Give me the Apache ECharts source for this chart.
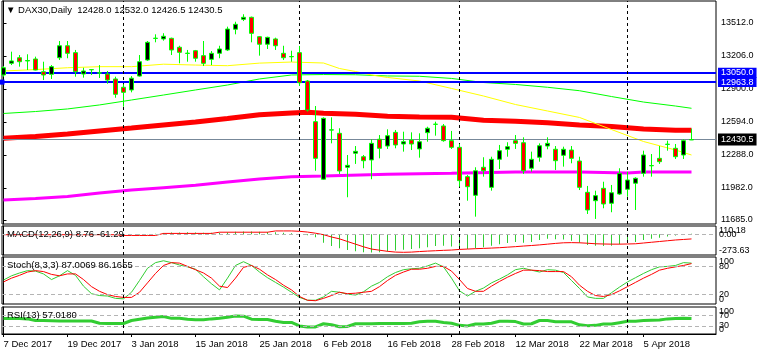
<!DOCTYPE html>
<html><head><meta charset="utf-8">
<script src="https://cdn.jsdelivr.net/npm/echarts@6/dist/echarts.min.js"></script>
<style>html,body{margin:0;padding:0;background:#fff}#c{width:759px;height:356px}</style>
</head><body><div id="c"></div>
<script>
// ---- x axis ticks ----
const tickIdx = [0, 8, 16, 24, 32, 40, 48, 56, 64, 72, 80];
const tickLabels = ['7 Dec 2017', '19 Dec 2017', '3 Jan 2018', '15 Jan 2018', '25 Jan 2018', '6 Feb 2018', '16 Feb 2018', '28 Feb 2018', '12 Mar 2018', '22 Mar 2018', '5 Apr 2018'];
const separatorIdx = [15, 37, 57, 78];
// ---- price axis ticks ----
const priceTicks = [11685, 11982, 12288, 12594, 12900, 13206, 13512];
// ---- OHLC ----
const openP = [13030,13138,13190,13160,13178,13060,13036,13190,13301,13237, 13039,13078,13048,13039,12993,12916,12891,13020,13169,13369, 13364,13370,13287,13230,13255,13209,13175,13231,13262,13454, 13546,13565,13385,13315,13364,13231,13199,13237,12974,12597, 12063,12519,12489,12174,12304,12272,12242,12434,12371,12498, 12390,12427,12344,12495,12572,12557,12421,12359,12087,11914, 12174,11988,12248,12341,12421,12402,12165,12267,12371,12341, 12285,12334,12232,11942,11864,11979,11840,11926,11970,12026, 12118,12188,12257,12386,12350,12288,12428];
const highP = [13113,13246,13215,13222,13200,13153,13122,13345,13345,13262, 13097,13085,13122,13067,13014,12944,13020,13215,13345,13407, 13417,13376,13301,13262,13262,13345,13252,13301,13478,13524, 13593,13571,13391,13385,13376,13301,13255,13299,12983,12742, 12637,12637,12536,12288,12371,12288,12434,12473,12526,12520, 12504,12498,12489,12550,12597,12575,12511,12390,12103,12174, 12267,12272,12381,12406,12473,12452,12319,12396,12452,12371, 12365,12371,12272,12001,11957,12040,12010,12165,12133,12081, 12328,12297,12371,12421,12390,12434,12532];
const lowP = [13014,13122,13107,13076,13073,12983,12993,13169,13185,13014, 13005,13030,13002,12949,12819,12736,12869,13014,13160,13333, 13348,13215,13138,13153,13153,13113,13122,13185,13252,13407, 13530,13333,13209,13271,13262,13169,13153,12928,12690,12142, 12056,12396,12112,11896,12205,12165,12063,12257,12344,12350, 12319,12334,12263,12411,12467,12411,12344,11994,11864,11716, 12087,11957,12158,12272,12344,12112,12133,12226,12341,12149, 12180,12211,11963,11741,11695,11794,11757,11917,11901,11778, 12087,12087,12205,12328,12251,12251,12426.5];
const closeP = [13097,13160,13153,13164,13076,13030,13107,13301,13231,13060, 13067,13080,13050,12983,12851,12869,13000,13153,13333,13371, 13389,13262,13240,13232,13185,13138,13231,13271,13456,13500, 13565,13416,13315,13379,13301,13190,13201,12958,12705,12257, 12628,12521,12140,12192,12322,12235,12396,12350,12467,12381, 12411,12390,12411,12536,12574,12421,12359,12050,11994,12142, 12142,12248,12328,12365,12396,12142,12248,12374,12396,12235, 12341,12257,11988,11778,11911,11834,11938,12118,12056,12072, 12288,12190,12226,12388,12272,12421,12430.5];
// ---- moving averages (read at sampled bars) ----
const yellowIdx = [0,4,8,12,16,20,24,28,32,36,40,42,44,46,48,52,56,60,64,68,72,76,80,84,86];
const yellowMA = [13067,13080,13097,13107,13107,13130,13122,13116,13140,13150,13141,13090,13062,13030,13007,12974,12905,12835,12756,12696,12636,12524,12413,12334,12288];
const greenIdx = [0,4,8,12,16,20,24,28,32,36,40,44,48,52,56,60,64,68,72,76,80,84,86];
const greenMA = [12673,12691,12715,12752,12798,12844,12891,12937,12993,13030,13034,13032,13021,13018,12998,12960,12942,12916,12884,12830,12779,12742,12721];
const redIdx = [0,4,8,12,16,20,24,28,32,36,38,40,44,48,52,56,60,64,68,72,76,80,84,86];
const redMA = [12443,12460,12483,12511,12538,12566,12594,12626,12662,12677,12684,12675,12665,12647,12640,12638,12610,12600,12588,12566,12552,12529,12517,12517];
const magentaIdx = [0,4,8,12,16,20,24,28,32,36,40,48,56,64,72,78,80,86];
const magentaMA = [11871,11885,11903,11936,11963,11985,12007,12038,12065,12087,12093,12109,12118,12130,12130,12121,12130,12130];
// ---- horizontal lines ----
const resistLines = [13050.0, 12963.8];
const bidPrice = 12430.5;
// ---- MACD ----
const macdMain = [4,3,2,1,-1,-2,-3,-3,-2,-3,-4,-5,-5,-6,-6, -8,-8,-6,-3, 8,18,24,25,27,25,22,20,20,28,35,38,36,33,30,27,22,15, 5,-12,-40,-111,-154,-185,-207,-225,-236,-240,-238, -228,-215,-205,-195,-185,-170,-155,-150,-160,-185,-195,-185,-170,-150,-130,-115,-100,-110,-100,-75,-60,-65,-70,-85,-110,-140,-150,-155,-150,-130,-115,-100,-75,-60,-45,-30,-15,0,9];
const macdSignal = [-5,-5,-5,-5,-5,-5,-5,-5,-5,-5,-5,-5,-5,-5,-5, -15,-15,-15,-15,-15, 12,12,12,12,12,12,12, 28,28,28,28,28,28,28, 45,45,45, 40,30,15,-5,-35,-60,-95,-130,-165,-195,-210,-225,-235,-238,-235,-228,-222,-217,-212,-208,-200,-195,-190,-186,-182,-177,-170,-163,-155,-148,-140,-130,-120,-112,-110,-112,-118,-125,-128,-130,-130,-128,-125,-115,-105,-95,-85,-75,-68,-61];
const macdRange = [-273.63, 110.18];
const macdLevels = [0];
// ---- Stochastic ----
const stochK = [51,60,66,71,70,64,52,60,71,61, 38,22,18,17,12,11,25,50,76,88, 92,88,83,79,74,58,43,30,55,82, 90,82,68,56,46,36,25,14,8,8, 15,27,25,21,19,26,38,46,58,67, 73,75,76,81,87,79,55,28,17,27, 34,45,53,62,73,76,72,68,73,72, 67,50,33,15,12,12,24,36,47,56, 65,73,79,80,82,88,87];
const stochD = [47,55,61,68,71,69,63,60,64,64, 52,37,27,20,16,14,14,25,45,65, 82,88,87,80,73,66,55,38,35,55, 78,82,74,62,52,40,30,16,8,7, 12,18,25,22,23,25,27,37,50,61, 68,74,74,76,80,80,70,52,33,27, 27,38,48,57,65,72,72,71,69,69, 69,58,40,27,18,16,20,28,37,46, 55,63,72,76,79,82,86];
const oscRange = [0, 100];
const stochLevels = [20, 80];
// ---- RSI ----
const rsi = [57,57,57,56,50,50,49,48,48,48, 48,48,40,39,39,39,50,55,59,62, 65,58,58,55,53,53,56,58,62,67, 66,55,54,54,47,43,43,30,26,26, 38,34,27,28,38,38,38,39,39,39, 39,40,45,47,47,43,40,32,30,37, 37,40,47,47,46,37,38,50,50,45, 45,45,34,31,32,37,37,42,47,47, 50,51,52,56,57,58,57];
const rsiLevels = [30, 70];

const FONT = 'Liberation Sans';
const XMIN = -0.1875, XMAX = 89.0625;
const candles = openP.map((o, i) => [i, o, closeP[i], lowP[i], highP[i]]);
const pairs = (idx, vals) => idx.map((x, k) => [x, vals[k]]);
const perBar = vals => vals.map((v, i) => [i, v]);
const sepLines = separatorIdx.map(v => ({ xAxis: v, lineStyle: { type: [3, 3], color: '#000', width: 1 }, label: { show: false } }));
const levelLines = lv => lv.map(v => ({ yAxis: v, lineStyle: { type: [4, 3], color: '#b4b4b4', width: 1 }, label: { show: false } }));

const grids = [
  { top: 1, height: 223 },
  { top: 226, height: 29 },
  { top: 257, height: 47 },
  { top: 307, height: 27 }
].map(g => Object.assign({ left: 2, right: 43, show: true, borderColor: '#000', borderWidth: 1, backgroundColor: '#fff', outerBoundsMode: 'none', containLabel: false }, g));

const xAxes = [0, 1, 2, 3].map(gi => ({
  type: 'value', gridIndex: gi, min: XMIN, max: XMAX,
  splitLine: { show: false },
  axisLine: { show: gi === 3, lineStyle: { color: '#000' } },
  axisTick: { show: gi === 3, customValues: tickIdx, length: 3, lineStyle: { color: '#000' } },
  axisLabel: {
    show: gi === 3, customValues: tickIdx, align: 'left', margin: 5,
    color: '#000', fontSize: 9.5, fontFamily: FONT, hideOverlap: false,
    formatter: v => tickLabels[tickIdx.indexOf(v)]
  }
}));

// extremes axis (labels hang inside the panel) and level axis (centered labels)
const subY = (gi, range, ticks, fmt, extreme) => ({
  type: 'value', gridIndex: gi, position: 'right', min: range[0], max: range[1],
  splitLine: { show: false },
  axisLine: { show: extreme, lineStyle: { color: '#000' } },
  axisTick: { show: false },
  axisLabel: Object.assign({
    customValues: ticks, margin: 3, color: '#000', fontSize: 9, fontFamily: FONT,
    hideOverlap: false, showMinLabel: true, showMaxLabel: true, formatter: fmt
  }, extreme ? { verticalAlignMinLabel: 'bottom', verticalAlignMaxLabel: 'top' } : {})
});
const f2 = v => v.toFixed(2);
const f0 = v => String(v);

const yAxes = [
  {
    type: 'value', gridIndex: 0, position: 'right', min: 11648, max: 13716, scale: true,
    splitLine: { show: false },
    axisLine: { show: true, lineStyle: { color: '#000' } },
    axisTick: { show: true, customValues: priceTicks, length: 3, lineStyle: { color: '#000' } },
    axisLabel: { customValues: priceTicks, margin: 5, color: '#000', fontSize: 9, fontFamily: FONT, hideOverlap: false, formatter: v => v.toFixed(1) }
  },
  subY(1, macdRange, macdRange, f2, true),
  subY(2, oscRange, oscRange, f0, true),
  subY(3, oscRange, oscRange, f0, true),
  subY(1, macdRange, macdLevels, f2, false),
  subY(2, oscRange, stochLevels, f0, false),
  subY(3, oscRange, rsiLevels, f0, false)
];

const priceLabel = (txt, bg) => ({ show: true, position: 'end', distance: 2, formatter: txt, color: '#fff', backgroundColor: bg, padding: bg === '#000' ? [2, 3, 1, 3] : [1, 3, 0, 3], fontSize: 9, fontFamily: FONT, lineHeight: 9 });

const series = [
  { type: 'line', xAxisIndex: 0, yAxisIndex: 0, data: pairs(magentaIdx, magentaMA), symbol: 'none', lineStyle: { color: '#ff00ff', width: 3 }, z: 2 },
  { type: 'line', xAxisIndex: 0, yAxisIndex: 0, data: pairs(redIdx, redMA), symbol: 'none', lineStyle: { color: '#ff0000', width: 5 }, z: 2 },
  { type: 'line', xAxisIndex: 0, yAxisIndex: 0, data: pairs(greenIdx, greenMA), symbol: 'none', lineStyle: { color: '#00ff00', width: 1 }, z: 2 },
  { type: 'line', xAxisIndex: 0, yAxisIndex: 0, data: pairs(yellowIdx, yellowMA), symbol: 'none', lineStyle: { color: '#ffff00', width: 1 }, z: 2 },
  {
    type: 'candlestick', xAxisIndex: 0, yAxisIndex: 0, data: candles,
    encode: { x: 0, y: [1, 2, 3, 4] }, barWidth: 4,
    itemStyle: { color: '#000', color0: '#ff0000', borderColor: '#00ff00', borderColor0: '#00ff00', borderWidth: 1 },
    z: 5,
    markLine: {
      silent: true, symbol: 'none', animation: false, label: { show: false },
      data: [
        { yAxis: bidPrice, lineStyle: { color: '#778899', width: 1, type: 'solid' }, label: priceLabel(bidPrice.toFixed(1), '#000') },
        { yAxis: resistLines[0], lineStyle: { color: '#0000ff', width: 2, type: 'solid' }, label: priceLabel(resistLines[0].toFixed(1), '#0000ff') },
        { yAxis: resistLines[1], symbol: ['emptyRect', 'emptyRect'], symbolSize: 5, lineStyle: { color: '#0000ff', width: 2, type: 'solid' }, label: priceLabel(resistLines[1].toFixed(1), '#0000ff') }
      ].concat(sepLines)
    }
  },
  {
    type: 'bar', xAxisIndex: 1, yAxisIndex: 1, data: perBar(macdMain), barWidth: 1,
    itemStyle: { color: '#32cd32' },
    markLine: { silent: true, symbol: 'none', animation: false, label: { show: false }, data: levelLines(macdLevels).concat(sepLines) }
  },
  { type: 'line', xAxisIndex: 1, yAxisIndex: 1, data: perBar(macdSignal), symbol: 'none', lineStyle: { color: '#ff0000', width: 1 } },
  {
    type: 'line', xAxisIndex: 2, yAxisIndex: 2, data: perBar(stochK), symbol: 'none', lineStyle: { color: '#32cd32', width: 1 },
    markLine: { silent: true, symbol: 'none', animation: false, label: { show: false }, data: levelLines(stochLevels).concat(sepLines) }
  },
  { type: 'line', xAxisIndex: 2, yAxisIndex: 2, data: perBar(stochD), symbol: 'none', lineStyle: { color: '#ff0000', width: 1 } },
  {
    type: 'line', xAxisIndex: 3, yAxisIndex: 3, data: perBar(rsi), symbol: 'none', lineStyle: { color: '#32cd32', width: 3 },
    markLine: { silent: true, symbol: 'none', animation: false, label: { show: false }, data: levelLines(rsiLevels).concat(sepLines) }
  }
];

const titleStyle = { fontSize: 9.5, fontWeight: 'normal', fontFamily: FONT, color: '#000' };
const titles = [
  { text: '\u25BC DAX30,Daily  12428.0 12532.0 12426.5 12430.5', left: 6, top: 5.5 },
  { text: 'MACD(12,26,9) 8.76 -61.29', left: 7, top: 229.5 },
  { text: 'Stoch(8,3,3) 87.0069 86.1655', left: 7, top: 260.5 },
  { text: 'RSI(13) 57.0180', left: 7, top: 310.5 }
].map(t => Object.assign({ padding: 0, textStyle: titleStyle, z: 20 }, t));

const chart = echarts.init(document.getElementById('c'), null, { renderer: 'canvas' });
chart.setOption({
  animation: false,
  backgroundColor: '#fff',
  title: titles,
  grid: grids,
  xAxis: xAxes,
  yAxis: yAxes,
  series: series
});
</script>
</body></html>
